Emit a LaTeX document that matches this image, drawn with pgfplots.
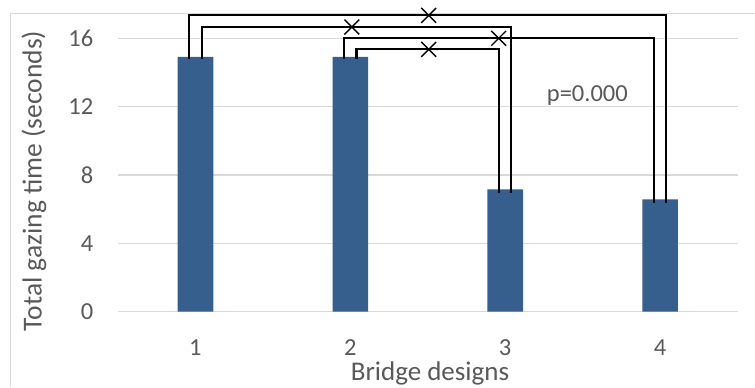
\documentclass[border=0pt]{standalone}
\usepackage{fontspec}
\setmainfont{Carlito}
\usepackage{pgfplots}
\pgfplotsset{compat=1.18}
\definecolor{barblue}{RGB}{54,95,142}
\definecolor{gridgray}{RGB}{217,217,217}
\definecolor{txtgray}{RGB}{89,89,89}
\begin{document}
\begin{tikzpicture}[x=1bp,y=1bp]
\useasboundingbox (0,0) rectangle (755,387);
\draw[gridgray, line width=1.2bp] (10.6,0) -- (10.6,373.5) -- (755,373.5);
\begin{axis}[
  at={(118bp,75.3bp)}, anchor=south west,
  scale only axis, width=619.5bp, height=273.4bp,
  xmin=0.5, xmax=4.5, ymin=0, ymax=16,
  xtick={1,2,3,4}, ytick={0,4,8,12,16},
  axis line style={draw=none},
  major tick length=0pt,
  ymajorgrids, grid style={gridgray, line width=1.3bp},
  /pgf/number format/assume math mode=true,
  tick label style={font=\fontsize{24.5bp}{29bp}\selectfont, text=txtgray},
  xticklabel style={anchor=base, inner sep=0pt, yshift=-43.3bp},
  yticklabel style={anchor=east, inner sep=0pt, xshift=-24.5bp},
  xlabel={Bridge designs},
  xlabel style={at={(axis description cs:0.5036,-0.2498)}, anchor=base, inner sep=0pt,
    font=\fontsize{27bp}{32bp}\selectfont, text=txtgray},
  ylabel={Total gazing time (seconds)},
  ylabel style={at={(axis description cs:-0.1356,0.478)}, anchor=center, inner sep=0pt,
    font=\fontsize{27.5bp}{32bp}\selectfont, text=txtgray},
  clip=false,
]
\addplot[ybar, bar width=0.23, fill=barblue, draw=none]
  coordinates {(1,14.92) (2,14.92) (3,7.16) (4,6.58)};
% comparison brackets
\addplot[black, line width=2.1bp, line join=miter, sharp plot, mark=none]
  coordinates {(0.96,14.79) (0.96,17.34) (4.04,17.34) (4.04,6.34)};
\addplot[black, line width=2.1bp, line join=miter, sharp plot, mark=none]
  coordinates {(1.04,14.79) (1.04,16.66) (3.04,16.66) (3.04,6.96)};
\addplot[black, line width=2.1bp, line join=miter, sharp plot, mark=none]
  coordinates {(1.96,14.79) (1.96,16.0) (3.96,16.0) (3.96,6.34)};
\addplot[black, line width=2.1bp, line join=miter, sharp plot, mark=none]
  coordinates {(2.04,14.79) (2.04,15.35) (2.96,15.35) (2.96,6.96)};
\addplot[only marks, mark=x, mark size=10.5bp, mark options={line width=1.4bp, black}]
  coordinates {(2.506,17.34) (2.01,16.66) (2.958,16.0) (2.506,15.35)};
\node[anchor=base west, inner sep=0pt, font=\fontsize{24.5bp}{29bp}\selectfont, text=txtgray]
  at (axis cs:3.268,12.29) {p=0.000};
\end{axis}
\end{tikzpicture}
\end{document}
